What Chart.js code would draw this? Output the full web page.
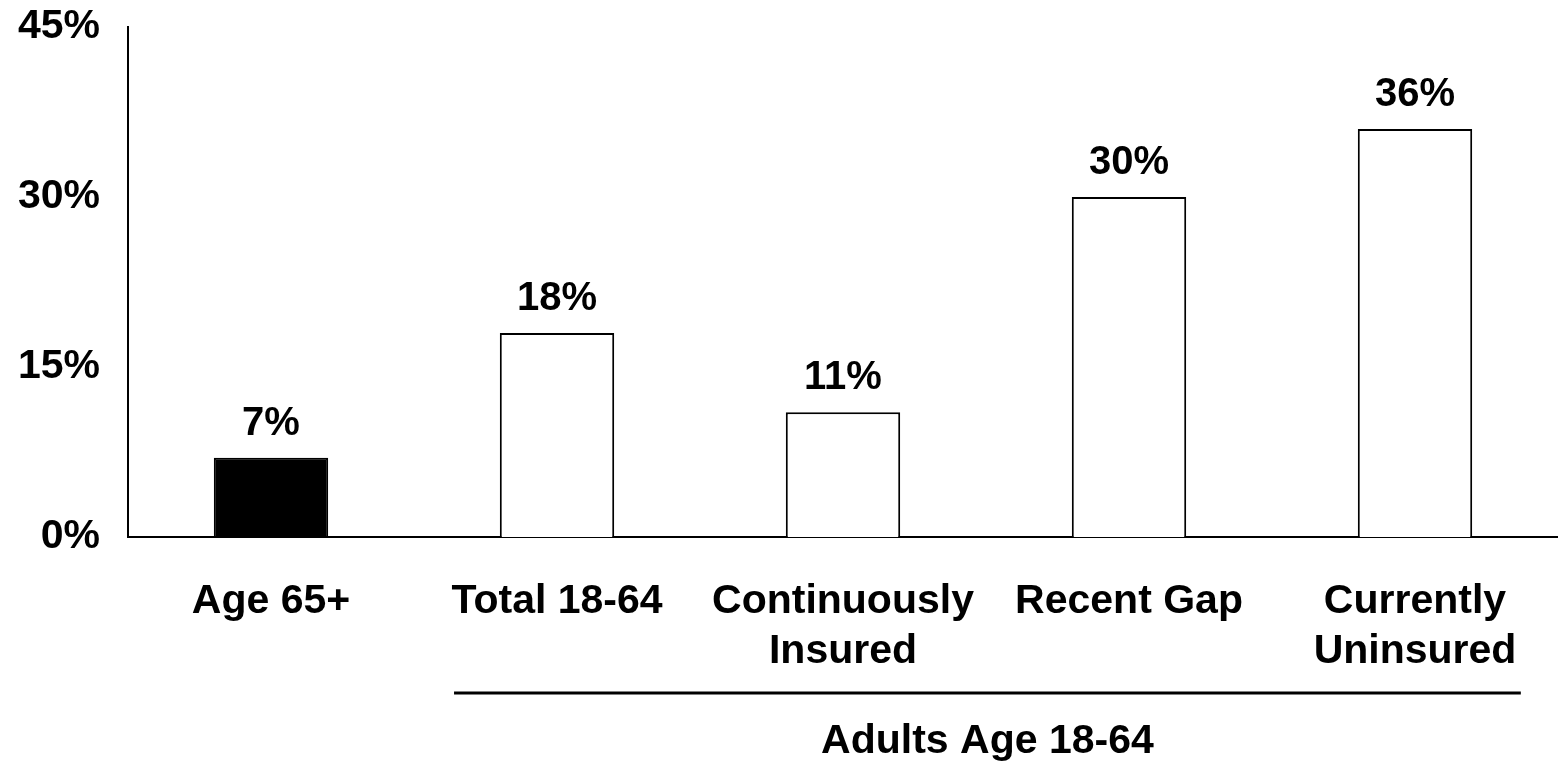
<!DOCTYPE html>
<html lang="en">
<head>
<meta charset="UTF-8">
<title>Share of adults by insurance status</title>
<script src="https://cdn.jsdelivr.net/npm/chart.js"></script>
<style>
  html,body{margin:0;padding:0;background:#fff}
  .chart-box{width:1558px;height:762px;position:relative}
</style>
</head>
<body>
<div class="chart-box"><canvas id="chart"></canvas></div>

<script>
const categories = ['Age 65+', 'Total 18-64', ['Continuously', 'Insured'], 'Recent Gap', ['Currently', 'Uninsured']];
const values = [7, 18, 11, 30, 36];
const yTicks = [0, 15, 30, 45];
const groupLabel = 'Adults Age 18-64';
const groupFirst = 1, groupLast = 4;   // categories under the bracket

const FONT = '"Liberation Sans", Arial, sans-serif';

// value labels above every bar
const valueLabels = {
  id: 'valueLabels',
  afterDatasetsDraw(c) {
    const ctx = c.ctx;
    const meta = c.getDatasetMeta(0);
    ctx.save();
    ctx.font = `bold 40px ${FONT}`;
    ctx.fillStyle = '#000';
    ctx.textAlign = 'center';
    ctx.textBaseline = 'bottom';
    meta.data.forEach((bar, i) => {
      ctx.fillText(values[i] + '%', bar.x, bar.y - 14);
    });
    ctx.restore();
  }
};

// underline + caption grouping the 18-64 categories
const groupBracket = {
  id: 'groupBracket',
  afterDraw(c) {
    const x = c.scales.x;
    const ctx = c.ctx;
    const w = x.getPixelForValue(1) - x.getPixelForValue(0);
    const left = x.getPixelForValue(groupFirst) - 0.36 * w;
    const right = x.getPixelForValue(groupLast) + 0.37 * w;
    const y = c.chartArea.bottom + 156;
    ctx.save();
    ctx.strokeStyle = '#000';
    ctx.lineWidth = 3;
    ctx.beginPath();
    ctx.moveTo(left, y);
    ctx.lineTo(right, y);
    ctx.stroke();
    ctx.font = `bold 41px ${FONT}`;
    ctx.fillStyle = '#000';
    ctx.textAlign = 'center';
    ctx.textBaseline = 'middle';
    ctx.fillText(groupLabel, (left + right) / 2, y + 49);
    ctx.restore();
  }
};

new Chart(document.getElementById('chart'), {
  type: 'bar',
  data: {
    labels: categories,
    datasets: [{
      data: values,
      backgroundColor: values.map((v, i) => i === 0 ? '#000' : '#fff'),
      borderColor: '#000',
      borderWidth: 2,
      barPercentage: 0.4,
      categoryPercentage: 1
    }]
  },
  options: {
    responsive: true,
    maintainAspectRatio: false,
    animation: false,
    layout: { padding: { left: 17, right: 0, top: 27, bottom: 85 } },
    plugins: { legend: { display: false }, tooltip: { enabled: false } },
    scales: {
      x: {
        afterFit: s => { s.height = 140; },
        grid: { display: false, drawTicks: false },
        border: { display: true, color: '#000', width: 2 },
        ticks: {
          color: '#000',
          padding: 40,
          maxRotation: 0,
          autoSkip: false,
          font: { family: FONT, size: 41, weight: 'bold', lineHeight: 1.22 }
        }
      },
      y: {
        min: 0,
        max: 45,
        afterFit: s => { s.width = 111; s.paddingTop = 0; s.paddingBottom = 0; },
        afterBuildTicks: s => { s.ticks = yTicks.map(v => ({ value: v })); },
        grid: { display: false, drawTicks: false },
        border: { display: true, color: '#000', width: 2 },
        ticks: {
          color: '#000',
          padding: 28,
          callback: v => v + '%',
          font: { family: FONT, size: 41, weight: 'bold' }
        }
      }
    }
  },
  plugins: [valueLabels, groupBracket]
});
</script>
</body>
</html>
